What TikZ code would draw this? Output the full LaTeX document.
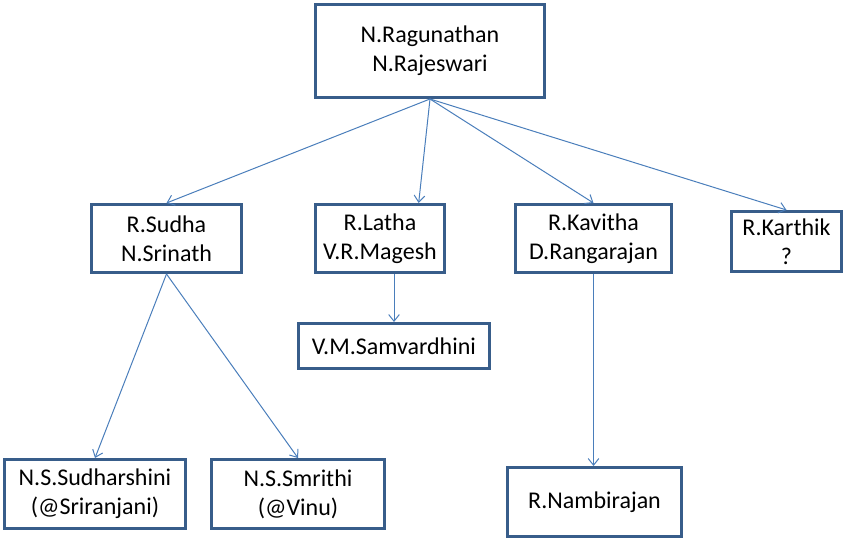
\documentclass[tikz,border=0pt]{standalone}
\usepackage{fontspec}
\setmainfont{Carlito}
\usetikzlibrary{arrows.meta}
\definecolor{bordo}{HTML}{385D8A}
\definecolor{linea}{HTML}{4A7EBB}
\begin{document}
\begin{tikzpicture}[x=0.75pt,y=-0.75pt,
    persona/.style={draw=bordo, line width=2.25pt, fill=white, align=center,
      inner sep=0pt, font=\fontsize{18}{21.75}\selectfont},
    freccia/.style={draw=linea, line width=0.75pt,
      -{Straight Barb[length=5pt,width=8pt]}}]
        \useasboundingbox (0,0) rectangle (847,541);

        % Definizione dei nodi
        \node[persona, minimum width=171.75pt, minimum height=69.75pt] (genitori) at (430,51) {N.Ragunathan\\N.Rajeswari};
        \node[persona, minimum width=112.5pt, minimum height=51pt] (sudha) at (166.5,238.5) {R.Sudha\\N.Srinath};
        \node[persona, minimum width=96.75pt, minimum height=51pt] (latha) at (380,238.5) {R.Latha\\V.R.Magesh};
        \node[persona, minimum width=117pt, minimum height=51pt] (kavitha) at (593.5,238.5) {R.Kavitha\\D.Rangarajan};
        \node[persona, minimum width=82.5pt, minimum height=45pt] (karthik) at (786.5,241.5) {R.Karthik\\?};
        \node[persona, minimum width=143.25pt, minimum height=33.75pt] (samvardhini) at (394,346) {V.M.Samvardhini};
        \node[persona, minimum width=135.75pt, minimum height=51.75pt] (sudharshini) at (95,494) {N.S.Sudharshini\\(@Sriranjani)};
        \node[persona, minimum width=129.75pt, minimum height=51.75pt] (smrithi) at (298,494) {N.S.Smrithi\\(@Vinu)};
        \node[persona, minimum width=130.5pt, minimum height=51.75pt] (nambirajan) at (594.5,502) {R.Nambirajan};

        % Disegno delle frecce
        \draw[freccia] (genitori.south) -- (sudha.north);
        \draw[freccia] (genitori.south) -- ([xshift=29pt]latha.north);
        \draw[freccia] (genitori.south) -- (kavitha.north);
        \draw[freccia] (genitori.south) -- (karthik.north);
        \draw[freccia] (sudha.south) -- (sudharshini.north);
        \draw[freccia] (sudha.south) -- (smrithi.north);
        \draw[freccia] (latha.south -| samvardhini.north) -- (samvardhini.north);
        \draw[freccia] (kavitha.south) -- (kavitha.south |- nambirajan.north);
      \end{tikzpicture}
\end{document}
